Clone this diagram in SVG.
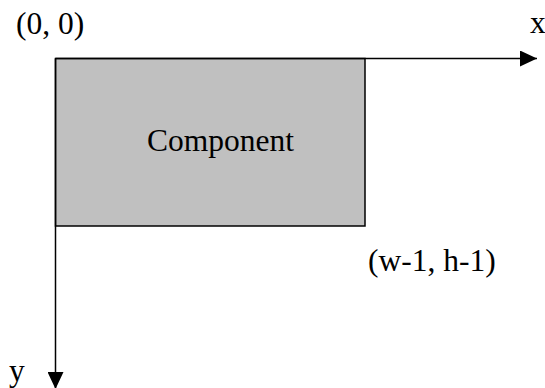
<svg xmlns="http://www.w3.org/2000/svg" width="545" height="388" viewBox="0 0 545 388">
  <style>
    .t { font-family: "Liberation Serif", "Times New Roman", serif; font-size: 31.5px; fill: #000; }
    .axis { stroke: #000; stroke-width: 1.5; fill: none; }
  </style>
  <defs>
    <marker id="arr" viewBox="0 0 17 16" refX="17" refY="8" markerWidth="17" markerHeight="16" markerUnits="userSpaceOnUse" orient="auto">
      <path d="M0,0 L17,8 L0,16 Z" fill="#000"/>
    </marker>
  </defs>
  <rect width="545" height="388" fill="#fff"/>
  <g id="component">
    <rect x="55.5" y="58.5" width="309.5" height="167.5" fill="#c0c0c0" stroke="#000" stroke-width="1.5"/>
    <text class="t" x="147" y="151">Component</text>
  </g>
  <g id="connectors">
    <line class="axis" x1="55.5" y1="58.5" x2="537" y2="58.5" marker-end="url(#arr)"/>
    <line class="axis" x1="55.5" y1="58.5" x2="55.5" y2="389" marker-end="url(#arr)"/>
  </g>
  <g id="labels">
    <text class="t" x="16" y="34">(0, 0)</text>
    <text class="t" x="530" y="33">x</text>
    <text class="t" x="368" y="271">(w-1, h-1)</text>
    <text class="t" x="9" y="381">y</text>
  </g>
</svg>
